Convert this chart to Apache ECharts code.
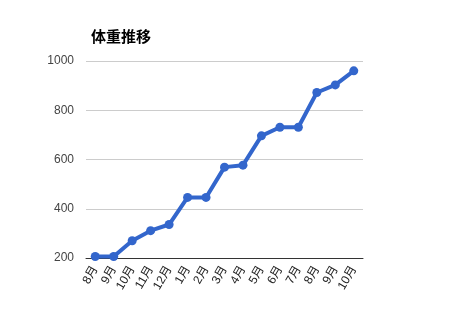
<!DOCTYPE html>
<html><head><meta charset="utf-8">
<script src="https://cdn.jsdelivr.net/npm/echarts@6/dist/echarts.min.js"></script>
<style>html,body{margin:0;padding:0;background:#fff}#c{width:450px;height:320px}</style>
</head><body><div id="c"></div>
<script>
const categories = ['8月','9月','10月','11月','12月','1月','2月','3月','4月','5月','6月','7月','8月','9月','10月'];
const weights = [206, 206, 270, 311, 336, 446, 446, 569, 577, 696, 731, 731, 872, 903, 960];
const chart = echarts.init(document.getElementById('c'));
chart.setOption({
  animation: false,
  title: { text: '体重推移', left: 86, top: 24, textStyle: { fontSize: 15, fontWeight: 'bold', color: '#000', fontFamily: 'Noto Sans CJK JP' } },
  grid: { left: 86, right: 87, top: 61, bottom: 62 },
  xAxis: {
    type: 'category', data: categories, boundaryGap: true,
    axisLine: { lineStyle: { color: '#333', width: 1 } },
    axisTick: { show: false },
    axisLabel: { rotate: 60, color: '#222', fontSize: 12, fontFamily: 'Liberation Sans, Noto Sans CJK JP', interval: 0, margin: 9 }
  },
  yAxis: {
    type: 'value', min: 200, max: 1000, interval: 200,
    axisLine: { show: false }, axisTick: { show: false },
    splitLine: { lineStyle: { color: '#ccc' } },
    axisLabel: { color: '#444', fontSize: 12, fontFamily: 'Liberation Sans', margin: 12, formatter: v => String(v) }
  },
  series: [{
    type: 'line', data: weights, symbol: 'circle', symbolSize: 9,
    lineStyle: { color: '#3366cc', width: 4 }, itemStyle: { color: '#3366cc' }
  }]
});
</script></body></html>
